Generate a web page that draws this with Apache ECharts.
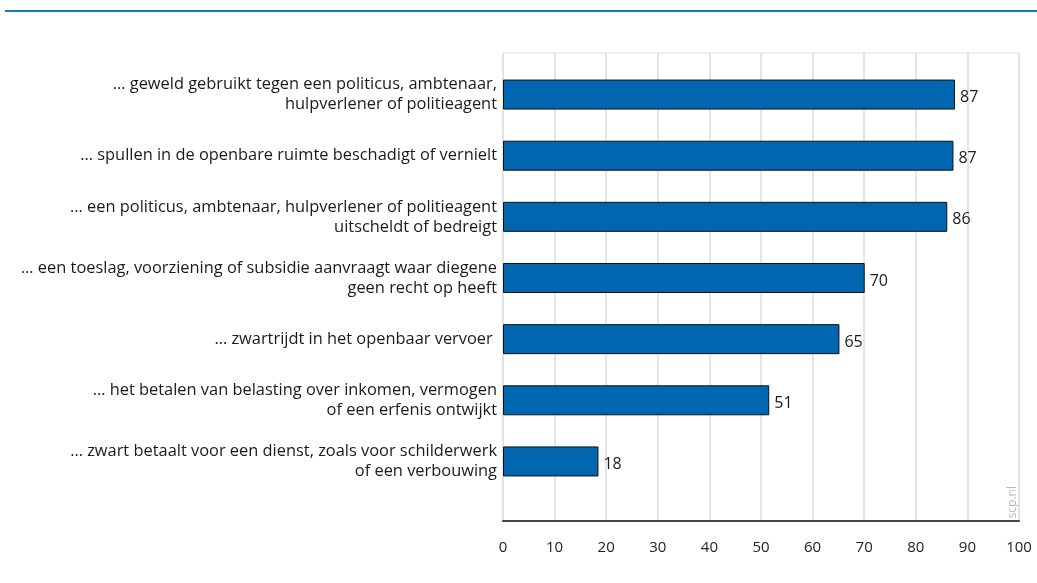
<!DOCTYPE html>
<html>
<head>
<meta charset="utf-8">
<script src="https://cdn.jsdelivr.net/npm/echarts@6/dist/echarts.min.js"></script>
<style>
  html, body { margin: 0; padding: 0; background: #fff; }
  #chart { width: 1037px; height: 583px; }
</style>
</head>
<body>
<div id="chart"></div>
<script>
// data
var categories = [
    '… geweld gebruikt tegen een politicus, ambtenaar,\nhulpverlener of politieagent',
    '… spullen in de openbare ruimte beschadigt of vernielt',
    '… een politicus, ambtenaar, hulpverlener of politieagent\nuitscheldt of bedreigt',
    '… een toeslag, voorziening of subsidie aanvraagt waar diegene\ngeen recht op heeft',
    '… zwartrijdt in het openbaar vervoer ',
    '… het betalen van belasting over inkomen, vermogen\nof een erfenis ontwijkt',
    '… zwart betaalt voor een dienst, zoals voor schilderwerk\nof een verbouwing'
];
var values = [87.6, 87.3, 86.1, 70.1, 65.2, 51.6, 18.5];
var valueLabels = ['87', '87', '86', '70', '65', '51', '18'];
var xTicks = [0, 100, 10];   // min, max, interval

var font = '"Open Sans", "Noto Sans", sans-serif';
var chart = echarts.init(document.getElementById('chart'), null, { renderer: 'canvas' });

var option = {
    backgroundColor: '#fff',
    animation: false,
    grid: [
        // bars
        { left: 503, right: 18, top: 64, height: 428 },
        // axis + gridlines
        { left: 503, right: 18, top: 53, bottom: 62, show: true, borderColor: '#dedede', borderWidth: 1 }
    ],
    xAxis: [
        { gridIndex: 0, type: 'value', min: xTicks[0], max: xTicks[1], interval: xTicks[2], show: false },
        {
            gridIndex: 1, type: 'value', min: xTicks[0], max: xTicks[1], interval: xTicks[2],
            axisLine: { show: true, lineStyle: { color: '#444', width: 2 } },
            axisTick: { show: false },
            splitLine: { show: true, lineStyle: { color: '#dedede', width: 1.5 } },
            axisLabel: { color: '#222', fontSize: 15, fontFamily: font, margin: 19 }
        }
    ],
    yAxis: [
        {
            gridIndex: 0, type: 'category', data: categories, inverse: true,
            axisLine: { show: false }, axisTick: { show: false }, splitLine: { show: false },
            axisLabel: { color: '#1a1a1a', fontSize: 16.4, fontFamily: font, lineHeight: 20, align: 'right', margin: 6 }
        },
        { gridIndex: 1, type: 'value', show: false, min: 0, max: 1 }
    ],
    series: [{
        type: 'bar',
        xAxisIndex: 0,
        yAxisIndex: 0,
        data: values,
        barWidth: 30,
        itemStyle: { color: '#0066b0', borderColor: '#111', borderWidth: 1 },
        label: {
            show: true,
            position: 'right',
            distance: 5,
            color: '#1a1a1a',
            fontSize: 16,
            fontFamily: font,
            offset: [0, 3],
            formatter: function (p) { return valueLabels[p.dataIndex]; }
        }
    }],
    graphic: [
        { type: 'rect', left: 5, top: 10, shape: { width: 1032, height: 2 }, style: { fill: '#0a7fd0' } },
        {
            type: 'text', left: 1007, top: 486, rotation: Math.PI / 2,
            style: { text: 'scp.nl', fill: '#bbb', fontSize: 12, fontFamily: font }
        }
    ]
};
chart.setOption(option);
</script>
</body>
</html>
